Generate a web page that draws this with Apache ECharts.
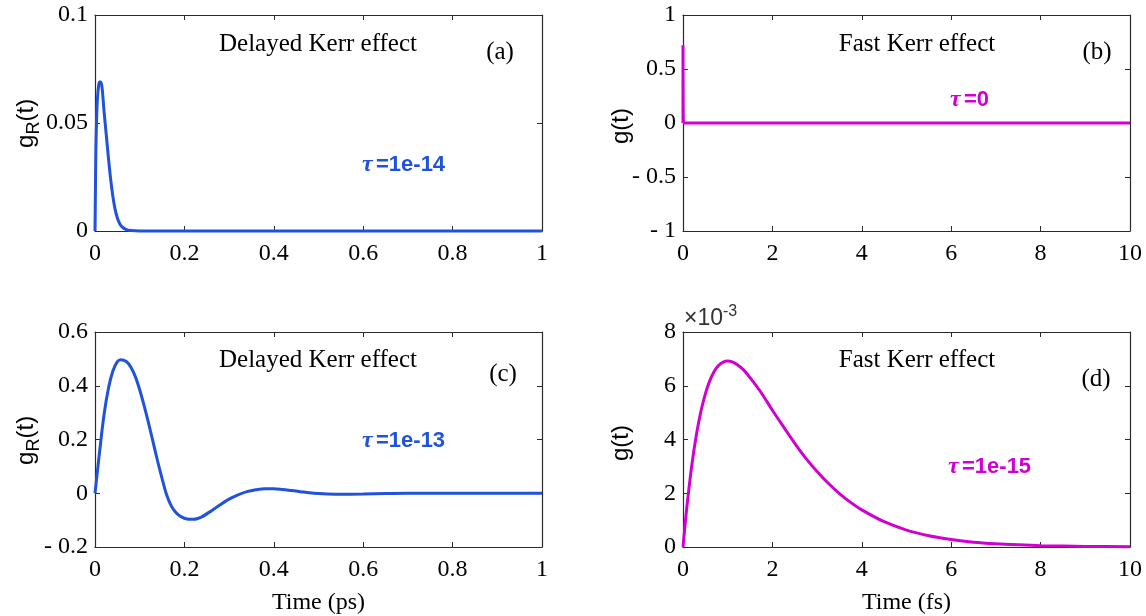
<!DOCTYPE html>
<html lang="en">
<head>
<meta charset="UTF-8">
<title>Kerr effect response</title>
<style>html,body{margin:0;padding:0;background:#fff;}</style>
</head>
<body>
<div id="main" style="width:1146px;height:616px;"></div>
<script src="https://cdn.jsdelivr.net/npm/echarts@6/dist/echarts.min.js"></script>
<script>
// (a) delayed Kerr effect, tau = 1e-14, time in ps
var tA = [0, 0.001, 0.002, 0.004, 0.006, 0.008, 0.010, 0.013, 0.016, 0.020, 0.025, 0.030, 0.035, 0.040, 0.045, 0.050, 0.055, 0.060, 0.070, 0.080, 0.100, 0.2, 0.4, 0.6, 0.8, 1];
var gA = [0, 0.02, 0.038, 0.055, 0.063, 0.067, 0.069, 0.069, 0.066, 0.056, 0.045, 0.034, 0.024, 0.016, 0.010, 0.006, 0.0035, 0.002, 0.0006, 0.0002, 0, 0, 0, 0, 0, 0];

// (b) fast Kerr effect, tau = 0, time in fs
var tB = [0, 0, 0.01, 10];
var gB = [0, 0.72, 0, 0];

// (c) delayed Kerr effect, tau = 1e-13, time in ps
var tC = [0, 0.01, 0.02, 0.03, 0.04, 0.05, 0.058, 0.07, 0.08, 0.09, 0.10, 0.11, 0.12, 0.13, 0.14, 0.15, 0.16, 0.17, 0.18, 0.19, 0.20, 0.21, 0.22, 0.23, 0.24, 0.26, 0.28, 0.30, 0.32, 0.34, 0.36, 0.38, 0.40, 0.42, 0.44, 0.46, 0.48, 0.50, 0.52, 0.55, 0.60, 0.65, 0.70, 0.80, 0.90, 1.0];
var gC = [0, 0.15, 0.29, 0.39, 0.455, 0.49, 0.497, 0.49, 0.47, 0.435, 0.385, 0.325, 0.26, 0.19, 0.12, 0.055, -0.005, -0.045, -0.07, -0.085, -0.093, -0.097, -0.097, -0.094, -0.087, -0.066, -0.043, -0.022, -0.006, 0.006, 0.013, 0.017, 0.017, 0.014, 0.010, 0.006, 0.002, -0.001, -0.003, -0.004, -0.003, -0.001, 0, 0, 0, 0];

// (d) fast Kerr effect, tau = 1e-15, time in fs, g in units of 1e-3
var tD = [0, 0.05, 0.1, 0.2, 0.3, 0.4, 0.5, 0.6, 0.7, 0.8, 0.9, 1.0, 1.1, 1.2, 1.35, 1.5, 1.75, 2.0, 2.25, 2.5, 2.75, 3.0, 3.25, 3.5, 3.75, 4.0, 4.5, 5.0, 5.5, 6.0, 6.5, 7.0, 7.5, 8.0, 9.0, 10.0];
var gD = [0, 0.9, 1.7, 3.08, 4.18, 5.04, 5.7, 6.19, 6.54, 6.76, 6.88, 6.92, 6.89, 6.8, 6.6, 6.3, 5.74, 5.09, 4.47, 3.86, 3.3, 2.81, 2.37, 1.99, 1.66, 1.38, 0.94, 0.63, 0.42, 0.28, 0.18, 0.12, 0.08, 0.05, 0.02, 0.01];

var xTicksA = [0, 1, 0.2];
var yTicksA = [0, 0.1, 0.05];
var xTicksB = [0, 10, 2];
var yTicksB = [-1, 1, 0.5];
var xTicksC = [0, 1, 0.2];
var yTicksC = [-0.2, 0.6, 0.2];
var xTicksD = [0, 10, 2];
var yTicksD = [0, 8, 2];

var blue = '#2152dc';
var magenta = '#d000d0';
var axisColor = '#2b2b2b';
var serif = '"Liberation Serif", "Times New Roman", serif';
var sans = '"Liberation Sans", Arial, sans-serif';

var grids = [
    {left: 95, top: 15, width: 447, height: 216},
    {left: 683, top: 15, width: 447, height: 216},
    {left: 95, top: 332, width: 447, height: 216},
    {left: 683, top: 332, width: 447, height: 216}
];

function pairs(xs, ys) {
    return xs.map(function (x, i) { return [x, ys[i]]; });
}

function fmt(v) {
    return String(+v.toFixed(4)).replace('-', '- ');
}

var xAxes = [], yAxes = [];
function addAxes(gi, xt, yt, xName) {
    ['bottom', 'top'].forEach(function (pos, k) {
        xAxes.push({
            type: 'value', gridIndex: gi, position: pos,
            min: xt[0], max: xt[1], interval: xt[2],
            axisLine: {show: true, onZero: false, lineStyle: {color: axisColor, width: 1.2}},
            axisTick: {show: true, inside: true, length: 5, lineStyle: {color: axisColor}},
            axisLabel: {show: k === 0, fontFamily: serif, fontSize: 24, color: '#000', margin: 11, formatter: fmt},
            splitLine: {show: false},
            name: k === 0 ? xName : '', nameLocation: 'middle', nameGap: 44,
            nameTextStyle: {fontFamily: serif, fontSize: 24, color: '#000'}
        });
    });
    ['left', 'right'].forEach(function (pos, k) {
        yAxes.push({
            type: 'value', gridIndex: gi, position: pos,
            min: yt[0], max: yt[1], interval: yt[2],
            axisLine: {show: true, onZero: false, lineStyle: {color: axisColor, width: 1.2}},
            axisTick: {show: true, inside: true, length: 5, lineStyle: {color: axisColor}},
            axisLabel: {show: k === 0, fontFamily: serif, fontSize: 24, color: '#000', margin: 7, formatter: fmt},
            splitLine: {show: false}
        });
    });
}
addAxes(0, xTicksA, yTicksA, '');
addAxes(1, xTicksB, yTicksB, '');
addAxes(2, xTicksC, yTicksC, 'Time (ps)');
addAxes(3, xTicksD, yTicksD, 'Time (fs)');

function line(gi, xs, ys, color) {
    return {
        type: 'line', xAxisIndex: gi * 2, yAxisIndex: gi * 2,
        data: pairs(xs, ys), showSymbol: false, smooth: 0.3, clip: false,
        lineStyle: {color: color, width: 3}, itemStyle: {color: color}
    };
}

function txt(x, y, s, size) {
    return {type: 'text', x: x, y: y, style: {text: s, fontFamily: serif, fontSize: size || 25, fill: '#000', align: 'center', verticalAlign: 'middle'}};
}

function tau(x, y, s, color) {
    return {
        type: 'text', x: x, y: y,
        style: {
            text: '{t|τ} {v|' + s + '}', align: 'left', verticalAlign: 'middle',
            rich: {
                t: {fontFamily: serif, fontStyle: 'italic', fontWeight: 'bold', fontSize: 24, fill: color},
                v: {fontFamily: sans, fontWeight: 'bold', fontSize: 22, fill: color}
            }
        }
    };
}

// rotated y axis title, subscript drawn as its own text piece
function yName(x, y, sub) {
    var st = function (s, size) {
        return {text: s, fontFamily: sans, fontSize: size, fill: '#000', align: 'left', verticalAlign: 'middle'};
    };
    var kids = sub ? [
        {type: 'text', x: -25, y: 0, style: st('g', 24)},
        {type: 'text', x: -11.5, y: 8, style: st('R', 18)},
        {type: 'text', x: 1.5, y: 0, style: st('(t)', 24)}
    ] : [
        {type: 'text', x: -21, y: 0, style: st('g(t)', 24)}
    ];
    return {type: 'group', x: x, y: y, rotation: Math.PI / 2, children: kids};
}

var chart = echarts.init(document.getElementById('main'));
chart.setOption({
    backgroundColor: '#fff',
    animation: false,
    grid: grids,
    xAxis: xAxes,
    yAxis: yAxes,
    series: [
        line(0, tA, gA, blue),
        line(1, tB, gB, magenta),
        line(2, tC, gC, blue),
        line(3, tD, gD, magenta)
    ],
    graphic: [
        txt(318, 44, 'Delayed Kerr effect'),
        txt(500, 52, '(a)'),
        tau(362, 165, '=1e-14', blue),
        txt(917, 44, 'Fast Kerr effect'),
        txt(1097, 52, '(b)'),
        tau(950, 100, '=0', magenta),
        txt(318, 360, 'Delayed Kerr effect'),
        txt(503, 374, '(c)'),
        tau(362, 441, '=1e-13', blue),
        txt(917, 360, 'Fast Kerr effect'),
        txt(1096, 379, '(d)'),
        tau(948, 467, '=1e-15', magenta),
        yName(26, 123, true),
        yName(621, 123, false),
        yName(26, 440, true),
        yName(621, 440, false),
        {
            type: 'text', x: 684, y: 317,
            style: {
                text: '{a|×10}{b|-3}', align: 'left', verticalAlign: 'middle',
                rich: {
                    a: {fontFamily: sans, fontSize: 23, lineHeight: 26, verticalAlign: 'bottom', fill: '#333'},
                    b: {fontFamily: sans, fontSize: 16, lineHeight: 16, padding: [0, 0, 10, 0], verticalAlign: 'top', fill: '#333'}
                }
            }
        }
    ]
});
</script>
</body>
</html>
